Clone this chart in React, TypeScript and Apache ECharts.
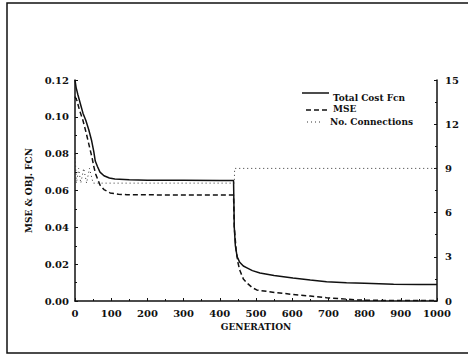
import React, { useEffect, useRef } from "react";
import * as echarts from "echarts";

// Total cost function (left axis)
const costGen = [0, 3, 8, 15, 22, 30, 38, 46, 52, 56, 62, 69, 80, 95, 110, 150, 200, 300, 400, 438, 440, 443, 448, 455, 465, 475, 490, 511, 550, 602, 650, 695, 750, 800, 880, 950, 1000];
const costVal = [0.120, 0.116, 0.112, 0.107, 0.102, 0.098, 0.093, 0.087, 0.081, 0.076, 0.073, 0.070, 0.068, 0.0668, 0.0662, 0.0658, 0.0656, 0.0655, 0.0654, 0.0654, 0.040, 0.030, 0.024, 0.021, 0.019, 0.018, 0.0165, 0.0152, 0.0138, 0.0125, 0.0114, 0.0104, 0.0099, 0.0096, 0.0091, 0.0090, 0.0089];

// MSE (left axis)
const mseGen = [0, 5, 12, 22, 30, 36, 42, 47, 52, 57, 63, 69, 80, 97, 120, 143, 250, 438, 440, 445, 450, 455, 465, 475, 490, 502, 530, 558, 600, 650, 695, 750, 787, 850, 1000];
const mseVal = [0.111, 0.109, 0.104, 0.098, 0.092, 0.087, 0.082, 0.078, 0.073, 0.069, 0.066, 0.063, 0.0605, 0.0587, 0.058, 0.0577, 0.0576, 0.0575, 0.040, 0.028, 0.021, 0.0168, 0.012, 0.0098, 0.0072, 0.006, 0.0052, 0.0045, 0.0036, 0.0027, 0.0018, 0.0010, 0.0005, 0.0003, 0.0002];

// Number of connections (right axis)
const connGen = [0, 4, 10, 16, 24, 32, 40, 50, 60, 440, 441, 1000];
const connVal = [10, 8, 9, 8, 9, 8, 9, 8, 8, 8, 9, 9];

const legendNames = ["Total Cost Fcn", "MSE", "No. Connections"];
const leftAxisName = "MSE & OBJ. FCN";
const xAxisName = "GENERATION";

const FONT = "DejaVu Serif";
const INK = "#111";

const zip = (a: number[], b: number[]) => a.map((g, i) => [g, b[i]]);

export default function App() {
  const ref = useRef<HTMLDivElement>(null);
  useEffect(() => {
    document.body.style.margin = "0";
    const chart = echarts.init(ref.current!, undefined, { renderer: "svg" });
    const labelStyle = { color: INK, fontFamily: FONT, fontWeight: "bold" as const, fontSize: 10 };
    const axisLine = { show: true, lineStyle: { color: INK, width: 1.5 } };
    chart.setOption({
      animation: false,
      backgroundColor: "#fff",
      grid: { left: 75, right: 31, top: 80, bottom: 55, containLabel: false },
      xAxis: {
        type: "value",
        min: 0,
        max: 1000,
        interval: 100,
        name: xAxisName,
        nameLocation: "middle",
        nameGap: 21,
        nameTextStyle: { color: INK, fontFamily: FONT, fontWeight: "bold", fontSize: 9 },
        axisLine,
        axisTick: { show: true, inside: true, length: 3, lineStyle: { color: INK } },
        minorTick: { show: true, splitNumber: 2, length: 2, lineStyle: { color: INK } },
        axisLabel: { ...labelStyle, margin: 7, formatter: (v: number) => String(v) },
        splitLine: { show: false },
      },
      yAxis: [
        {
          type: "value",
          min: 0,
          max: 0.12,
          interval: 0.02,
          name: leftAxisName,
          nameLocation: "middle",
          nameRotate: 90,
          nameGap: 33,
          nameTextStyle: { color: INK, fontFamily: FONT, fontWeight: "bold", fontSize: 9 },
          axisLine,
          axisTick: { show: true, inside: true, length: 3, lineStyle: { color: INK } },
          minorTick: { show: true, splitNumber: 2, length: 2, lineStyle: { color: INK } },
          axisLabel: { ...labelStyle, margin: 6, formatter: (v: number) => v.toFixed(2) },
          splitLine: { show: false },
        },
        {
          type: "value",
          min: 0,
          max: 15,
          interval: 3,
          position: "right",
          axisLine,
          axisTick: { show: true, inside: true, length: 3, lineStyle: { color: INK } },
          minorTick: { show: true, splitNumber: 2, length: 2, lineStyle: { color: INK } },
          axisLabel: { ...labelStyle, margin: 8 },
          splitLine: { show: false },
        },
      ],
      series: [
        {
          name: legendNames[0],
          type: "line",
          yAxisIndex: 0,
          data: zip(costGen, costVal),
          showSymbol: false,
          symbol: "none",
          lineStyle: { color: INK, width: 1.5, type: "solid" },
        },
        {
          name: legendNames[1],
          type: "line",
          yAxisIndex: 0,
          data: zip(mseGen, mseVal),
          showSymbol: false,
          symbol: "none",
          lineStyle: { color: INK, width: 1.5, type: [5, 3] },
        },
        {
          name: legendNames[2],
          type: "line",
          yAxisIndex: 1,
          data: zip(connGen, connVal),
          showSymbol: false,
          symbol: "none",
          lineStyle: { color: "#333", width: 1, type: [1, 3] },
        },
      ],
      graphic: [
        {
          type: "rect",
          shape: { x: 7, y: 3, width: 470, height: 350 },
          style: { fill: "none", stroke: INK, lineWidth: 1.5 },
          silent: true,
        },
        { type: "line", shape: { x1: 302, y1: 93, x2: 329, y2: 93 }, style: { stroke: INK, lineWidth: 1.5 } },
        { type: "text", x: 333, y: 98, style: { text: legendNames[0], fill: INK, font: `bold 9px "${FONT}"`, verticalAlign: "middle" } },
        { type: "line", shape: { x1: 306, y1: 110, x2: 328, y2: 110 }, style: { stroke: INK, lineWidth: 1.5, lineDash: [5, 3] } },
        { type: "text", x: 333, y: 109, style: { text: legendNames[1], fill: INK, font: `bold 9px "${FONT}"`, verticalAlign: "middle" } },
        { type: "line", shape: { x1: 307, y1: 122, x2: 321, y2: 122 }, style: { stroke: "#333", lineWidth: 1, lineDash: [1, 3] } },
        { type: "text", x: 330, y: 122, style: { text: legendNames[2], fill: INK, font: `bold 9px "${FONT}"`, verticalAlign: "middle" } },
      ],
    });
    return () => chart.dispose();
  }, []);
  return <div ref={ref} style={{ width: 468, height: 356 }} />;
}
